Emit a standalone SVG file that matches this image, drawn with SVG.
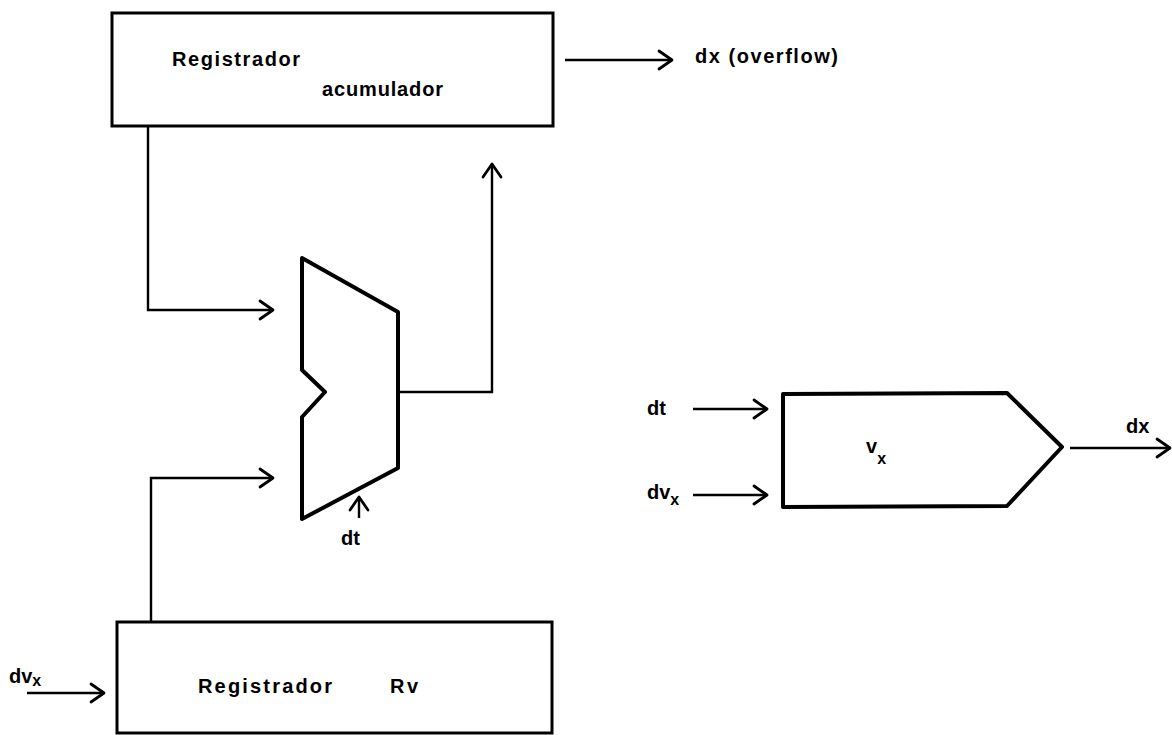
<svg xmlns="http://www.w3.org/2000/svg" width="1172" height="735" viewBox="0 0 1172 735">
<style>
.box{fill:none;stroke:#000;stroke-width:3}
.shape{fill:none;stroke:#000;stroke-width:4;stroke-linejoin:round}
.wire{fill:none;stroke:#000;stroke-width:2.4}
.lbl{font-family:"Liberation Sans",Arial,sans-serif;font-weight:bold;font-size:20px;fill:#000}
.sub{font-size:16px}
</style>
<defs>
<marker id="ah" markerUnits="userSpaceOnUse" markerWidth="30" markerHeight="30" viewBox="-15 -15 30 30" refX="0" refY="0" orient="auto">
<path d="M-13,-9 L0,0 L-13,9" fill="none" stroke="#000" stroke-width="2.8" stroke-linecap="round" stroke-linejoin="round"/>
</marker>
</defs>
<rect width="1172" height="735" fill="#fff"/>
<g id="acumulador">
<rect class="box" x="112" y="13" width="441" height="113"/>
<text class="lbl" x="172" y="66" textLength="128" lengthAdjust="spacing">Registrador</text>
<text class="lbl" x="322" y="96" textLength="121" lengthAdjust="spacing">acumulador</text>
</g>
<g id="adder">
<polygon class="shape" points="302,258 398,312 398,468 302,519 302,417 325,392 302,370"/>
</g>
<g id="registrador-rv">
<rect class="box" x="117" y="622" width="435" height="111"/>
<text class="lbl" x="198" y="693" textLength="134" lengthAdjust="spacing">Registrador</text>
<text class="lbl" x="390" y="693" textLength="28" lengthAdjust="spacing">Rv</text>
</g>
<g id="integrator">
<polygon class="shape" points="783,394 1007,393 1062,447 1007,506 783,507"/>
<text class="lbl" x="866" y="453">v<tspan class="sub" dy="11">x</tspan></text>
</g>
<g id="connectors">
<path class="wire" d="M148,126 V310 H273" marker-end="url(#ah)"/>
<path class="wire" d="M151,622 V478 H273" marker-end="url(#ah)"/>
<path class="wire" d="M398,392 H492 V164" marker-end="url(#ah)"/>
<path class="wire" d="M359,518 V497" marker-end="url(#ah)"/>
<path class="wire" d="M565,60 H672" marker-end="url(#ah)"/>
<path class="wire" d="M27,693 H104" marker-end="url(#ah)"/>
<path class="wire" d="M693,409 H767" marker-end="url(#ah)"/>
<path class="wire" d="M693,495 H767" marker-end="url(#ah)"/>
<path class="wire" d="M1070,448 H1170" marker-end="url(#ah)"/>
</g>
<g id="labels">
<text class="lbl" x="695" y="63" textLength="143" lengthAdjust="spacing">dx (overflow)</text>
<text class="lbl" x="341" y="545">dt</text>
<text class="lbl" x="647" y="415">dt</text>
<text class="lbl" x="647" y="499">dv<tspan class="sub" dy="6">x</tspan></text>
<text class="lbl" x="1126" y="433">dx</text>
<text class="lbl" x="9" y="683">dv<tspan class="sub" dy="3">x</tspan></text>
</g>
</svg>
